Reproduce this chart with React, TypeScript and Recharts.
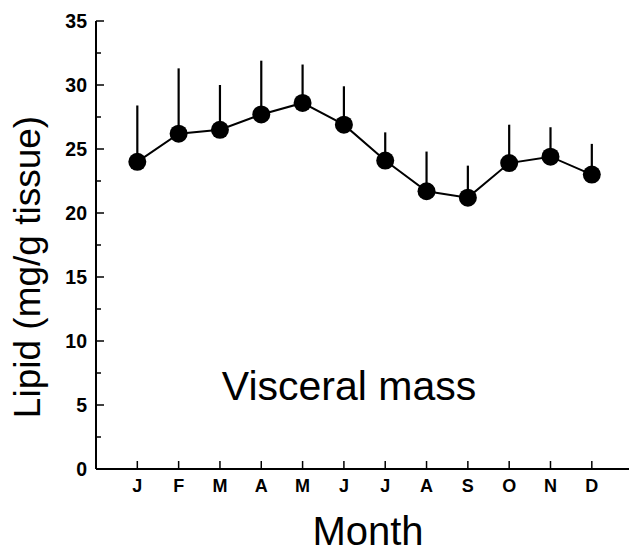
import { ErrorBar, Line, LineChart, XAxis, YAxis } from "recharts";

const months = ["J", "F", "M", "A", "M", "J", "J", "A", "S", "O", "N", "D"];
const lipid = [24.0, 26.2, 26.5, 27.7, 28.6, 26.9, 24.1, 21.7, 21.2, 23.9, 24.4, 23.0];
const sd = [4.4, 5.1, 3.5, 4.2, 3.0, 3.0, 2.2, 3.1, 2.5, 3.0, 2.3, 2.4];
const yTicks = [0, 2.5, 5, 7.5, 10, 12.5, 15, 17.5, 20, 22.5, 25, 27.5, 30, 32.5, 35];
const xTicks = [1, 2, 3, 4, 5, 6, 7, 8, 9, 10, 11, 12];

const data = months.map((m, i) => ({
  month: i + 1,
  label: m,
  lipid: lipid[i],
  err: [0, sd[i]],
}));

const font = "'Liberation Sans', Arial, sans-serif";

function YTick({ x, y, payload }: any) {
  const major = payload.value % 5 === 0;
  return (
    <g>
      <line x1={x} x2={x + (major ? 8 : 5)} y1={y} y2={y} stroke="#000" strokeWidth={1.5} />
      {major && (
        <text
          x={x - 9}
          y={y}
          textAnchor="end"
          dominantBaseline="central"
          fontFamily={font}
          fontWeight="bold"
          fontSize={19.5}
          fill="#000"
        >
          {payload.value}
        </text>
      )}
    </g>
  );
}

function XTick({ x, y, payload }: any) {
  return (
    <g>
      <line x1={x} x2={x} y1={y} y2={y - 8} stroke="#000" strokeWidth={1.5} />
      <text
        x={x}
        y={y + 23}
        textAnchor="middle"
        fontFamily={font}
        fontWeight="bold"
        fontSize={18}
        fill="#000"
      >
        {months[payload.value - 1]}
      </text>
    </g>
  );
}

export default function App() {
  return (
    <div style={{ position: "absolute", left: 0, top: 0, width: 629, height: 554, background: "#fff" }}>
      <LineChart width={629} height={554} data={data} margin={{ top: 21, right: 0, left: 0, bottom: 0 }}>
        <XAxis
          dataKey="month"
          type="number"
          domain={[0, 12.9]}
          ticks={xTicks}
          interval={0}
          height={85}
          tickSize={0}
          tickMargin={0}
          tickLine={false}
          tick={<XTick />}
          axisLine={{ stroke: "#000", strokeWidth: 2 }}
          allowDataOverflow
        />
        <YAxis
          type="number"
          domain={[0, 35]}
          ticks={yTicks}
          interval={0}
          width={96}
          tickSize={0}
          tickMargin={0}
          tickLine={false}
          tick={<YTick />}
          axisLine={{ stroke: "#000", strokeWidth: 2 }}
        />
        <Line
          dataKey="lipid"
          stroke="#000"
          strokeWidth={2}
          dot={{ r: 9, fill: "#000", stroke: "none" }}
          activeDot={false}
          isAnimationActive={false}
        >
          <ErrorBar dataKey="err" direction="y" width={0} stroke="#000" strokeWidth={2.2} />
        </Line>
      </LineChart>
      <svg
        width={629}
        height={554}
        style={{ position: "absolute", left: 0, top: 0, pointerEvents: "none" }}
      >
        <text
          transform="translate(40,267) rotate(-90)"
          textAnchor="middle"
          fontFamily={font}
          fontSize={37}
          fill="#000"
        >
          Lipid (mg/g tissue)
        </text>
        <text x={349} y={400} textAnchor="middle" fontFamily={font} fontSize={41} fill="#000">
          Visceral mass
        </text>
        <text x={368} y={545} textAnchor="middle" fontFamily={font} fontSize={40} fill="#000">
          Month
        </text>
      </svg>
    </div>
  );
}
